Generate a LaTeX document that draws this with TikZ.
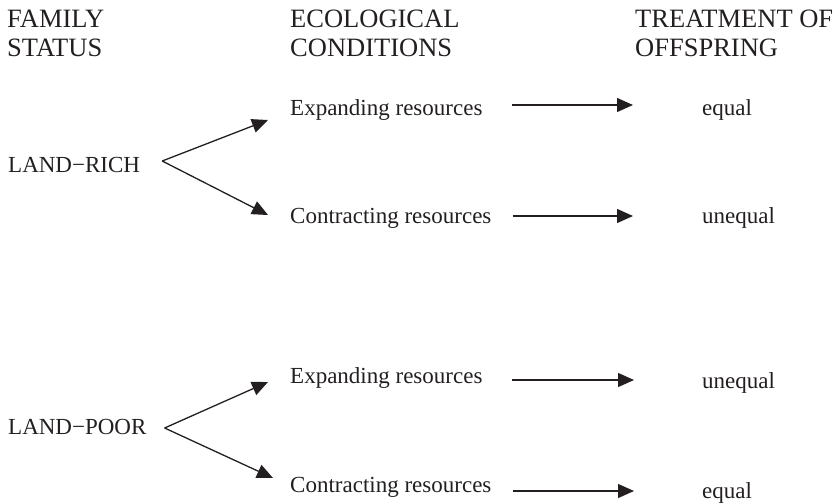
\documentclass[tikz,border=0pt]{standalone}
\usepackage{fontspec}
\setmainfont{Liberation Serif}
\usetikzlibrary{arrows.meta}
\definecolor{ink}{RGB}{35,31,32}
\begin{document}
\begin{tikzpicture}[x=1pt,y=-1pt,
  ink/.style={color=ink},
  headtxt/.style={ink,anchor=north west,inner sep=0pt,align=left,
    font=\fontsize{26.5}{29}\selectfont},
  bodytxt/.style={ink,anchor=base west,inner sep=0pt,
    font=\fontsize{23}{27}\selectfont},
  arr/.style={draw=ink,line width=1.3pt,
    -{Triangle[length=16pt,width=14pt]}}
]
\useasboundingbox (0,0) rectangle (840,503);

% column headings
\node[headtxt] (hfam) at (7,10) {FAMILY\\STATUS};
\node[headtxt] (heco) at (290,10) {ECOLOGICAL\\CONDITIONS};
\node[headtxt] (htre) at (635,10) {TREATMENT OF\\OFFSPRING};

% land-rich branch
\node[bodytxt] (rich)  at (8,172)   {LAND−RICH};
\node[bodytxt] (exp1)  at (290,115) {Expanding resources};
\node[bodytxt] (con1)  at (290,223) {Contracting resources};
\node[bodytxt] (eq1)   at (702,115) {equal};
\node[bodytxt] (uneq1) at (702,223) {unequal};

% land-poor branch
\node[bodytxt] (poor)  at (8,434)   {LAND−POOR};
\node[bodytxt] (exp2)  at (290,383) {Expanding resources};
\node[bodytxt] (con2)  at (290,492) {Contracting resources};
\node[bodytxt] (uneq2) at (702,388) {unequal};
\node[bodytxt] (eq2)   at (702,498) {equal};

% fork arrows
\draw[arr] ([shift={(22,-11)}]rich.base east) -- ([shift={(-22,5)}]exp1.base west);
\draw[arr] ([shift={(22,-11)}]rich.base east) -- ([shift={(-22,-8)}]con1.base west);
\draw[arr] ([shift={(18,-6)}]poor.base east) -- ([shift={(-22,-1)}]exp2.base west);
\draw[arr] ([shift={(18,-6)}]poor.base east) -- ([shift={(-17,-14)}]con2.base west);

% outcome arrows
\draw[arr] ([shift={(29,-10)}]exp1.base east) -- ([shift={(-69,-10)}]eq1.base west);
\draw[arr] ([shift={(21,-7)}]con1.base east) -- ([shift={(-69,-7)}]uneq1.base west);
\draw[arr] ([shift={(29,-3)}]exp2.base east) -- ([shift={(-68,-8)}]uneq2.base west);
\draw[arr] ([shift={(21,-1)}]con2.base east) -- ([shift={(-68,-7)}]eq2.base west);
\end{tikzpicture}
\end{document}
